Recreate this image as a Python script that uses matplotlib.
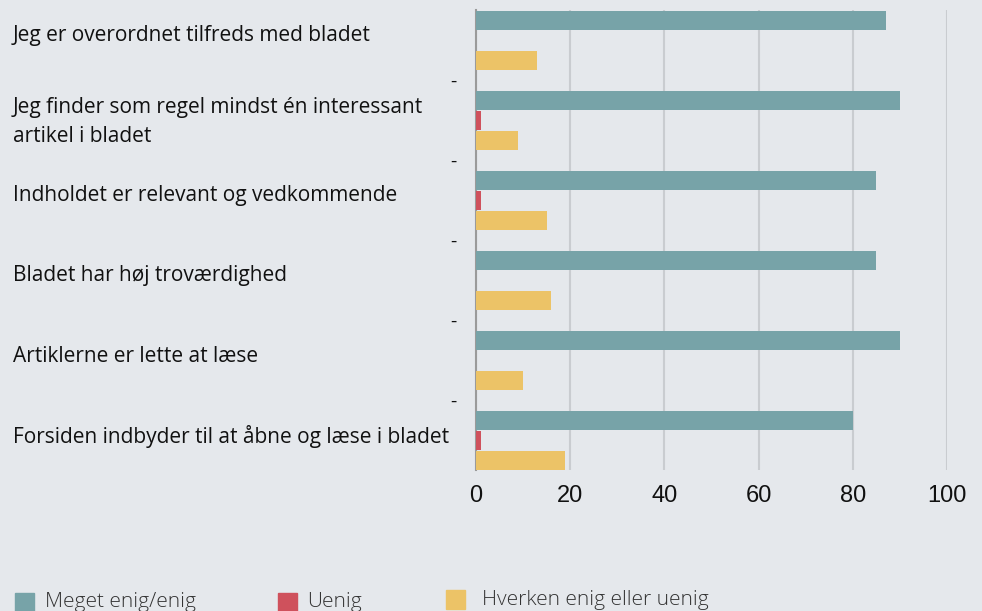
import matplotlib.pyplot as plt
import matplotlib.patches as patches
import matplotlib.transforms as mtransforms
import numpy as np

# data
categories = ["Jeg er overordnet tilfreds med bladet",
              "Jeg finder som regel mindst én interessant\nartikel i bladet",
              "Indholdet er relevant og vedkommende",
              "Bladet har høj troværdighed",
              "Artiklerne er lette at læse",
              "Forsiden indbyder til at åbne og læse i bladet"]
enig = [87, 90, 85, 85, 90, 80]
uenig = [0, 1, 1, 0, 0, 1]
hverken = [13, 9, 15, 16, 10, 19]
series_names = ["Meget enig/enig", "Uenig", "Hverken enig eller uenig"]
x_ticks = [0, 20, 40, 60, 80, 100]

BG = "#e5e8ec"
TEAL, RED, YELLOW = "#77a3a8", "#cf515c", "#ecc367"
W, H = 982, 611

fig = plt.figure(figsize=(W / 100, H / 100), dpi=100, facecolor=BG)
ax = fig.add_axes([476 / W, 1 - 470 / H, (947 - 476) / W, 460 / H])
ax.set_facecolor(BG)

n = len(categories)
base = np.arange(n) * 4
ax.barh(base, enig, height=0.95, color=TEAL, zorder=3)
ax.barh(base + 1, uenig, height=0.95, color=RED, zorder=3)
ax.barh(base + 2, hverken, height=0.95, color=YELLOW, zorder=3)

ax.set_xlim(0, 100)
ax.set_ylim(4 * (n - 1) + 2.5, -0.5)
ax.set_xticks(x_ticks)
ax.set_xticklabels([str(t) for t in x_ticks], fontsize=17, family="Liberation Sans", color="#111")
ax.tick_params(axis="x", length=0, pad=11)
ax.grid(axis="x", color="#c9ccd0", lw=1.5, zorder=0)

# the odd "-" labels between groups
ax.set_yticks(base[:-1] + 3)
ax.set_yticklabels(["-"] * (n - 1), fontsize=14, family="Open Sans", color="#111")
ax.tick_params(axis="y", length=0, pad=14)

for s in ["top", "right", "bottom"]:
    ax.spines[s].set_visible(False)
ax.spines["left"].set_color("#9a9a9a")
ax.spines["left"].set_linewidth(1.5)

trans = mtransforms.blended_transform_factory(fig.transFigure, ax.transData)
for i, cat in enumerate(categories):
    off = 1.1 if "\n" in cat else 0.8
    ax.text(13 / W, base[i] + off, cat, transform=trans, ha="left", va="center",
            fontsize=15, family="Open Sans", color="#111", linespacing=1.5)

# legend along the bottom
leg = [(15, 593, TEAL, 45, 607), (278, 593, RED, 307, 607), (446, 590, YELLOW, 482, 605)]
for (sx, sy, col, tx, ty), name in zip(leg, series_names):
    fig.add_artist(patches.Rectangle((sx / W, 1 - (sy + 19) / H), 19 / W, 19 / H,
                                     transform=fig.transFigure, color=col))
    fig.text(tx / W, 1 - ty / H, name, ha="left", va="baseline", fontsize=15,
             family="Open Sans", color="#333", fontweight="light")

fig.savefig("out.png", dpi=100, facecolor=BG)
